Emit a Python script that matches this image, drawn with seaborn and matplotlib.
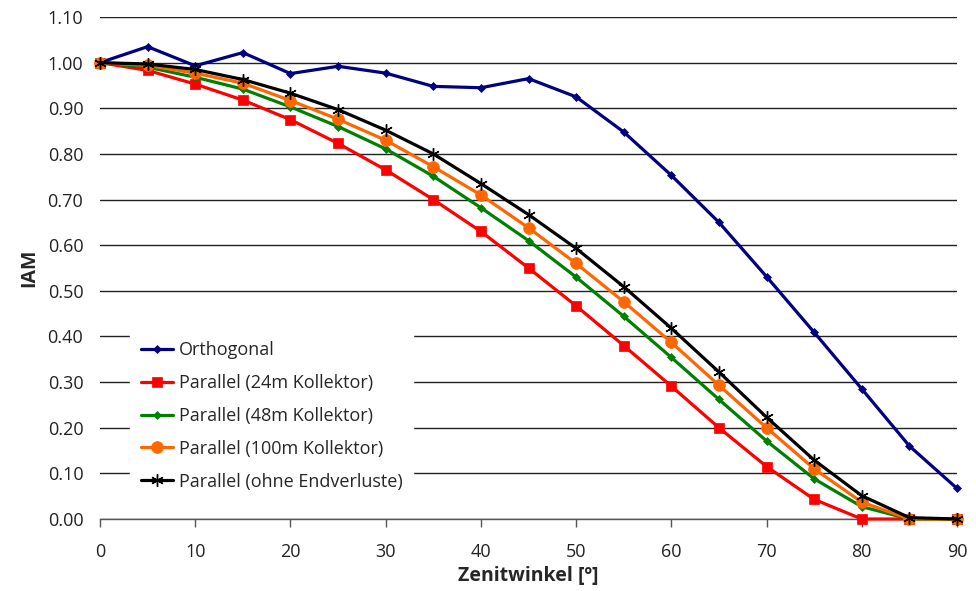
import matplotlib
matplotlib.use("Agg")
import matplotlib.pyplot as plt
import seaborn as sns
import pandas as pd

zenith = [0, 5, 10, 15, 20, 25, 30, 35, 40, 45, 50, 55, 60, 65, 70, 75, 80, 85, 90]
orthogonal = [1.000, 1.035, 0.993, 1.022, 0.976, 0.992, 0.977, 0.948, 0.945, 0.965,
              0.925, 0.848, 0.753, 0.650, 0.531, 0.409, 0.285, 0.160, 0.067]
par_24m = [1.000, 0.983, 0.953, 0.918, 0.875, 0.823, 0.765, 0.700, 0.630, 0.550,
           0.467, 0.380, 0.291, 0.200, 0.115, 0.043, 0.000, 0.000, 0.000]
par_48m = [1.000, 0.990, 0.968, 0.942, 0.903, 0.860, 0.811, 0.751, 0.682, 0.610,
           0.530, 0.444, 0.354, 0.262, 0.171, 0.088, 0.027, 0.000, 0.000]
par_100m = [1.000, 0.994, 0.977, 0.955, 0.917, 0.876, 0.830, 0.772, 0.710, 0.638,
            0.560, 0.476, 0.387, 0.293, 0.200, 0.110, 0.037, 0.000, 0.000]
par_ohne = [1.000, 0.997, 0.985, 0.963, 0.933, 0.897, 0.852, 0.800, 0.735, 0.667,
            0.593, 0.509, 0.418, 0.322, 0.223, 0.129, 0.051, 0.003, 0.000]

series_names = ["Orthogonal", "Parallel (24m Kollektor)", "Parallel (48m Kollektor)",
                "Parallel (100m Kollektor)", "Parallel (ohne Endverluste)"]
series_values = [orthogonal, par_24m, par_48m, par_100m, par_ohne]
y_ticks = [0.0, 0.1, 0.2, 0.3, 0.4, 0.5, 0.6, 0.7, 0.8, 0.9, 1.0, 1.1]
x_ticks = [0, 10, 20, 30, 40, 50, 60, 70, 80, 90]

colors = ["#000080", "#FF0000", "#008000", "#FF6600", "#000000"]
markers = ["D", "s", "D", "o", (6, 2, 0)]
msizes = [4.5, 7.5, 4.5, 8.5, 9]

sns.set_theme(style="white")
plt.rcParams["font.family"] = ["Open Sans", "DejaVu Sans"]

df = pd.DataFrame({"Zenitwinkel": zenith * len(series_names),
                   "IAM": sum(series_values, []),
                   "Serie": sum([[n] * len(zenith) for n in series_names], [])})

fig = plt.figure(figsize=(9.76, 5.91), dpi=100)
ax = fig.add_axes([100 / 976, (591 - 519) / 591, (957 - 100) / 976, (519 - 17) / 591])

for i, name in enumerate(series_names):
    sub = df[df["Serie"] == name]
    kw = dict(markeredgecolor=colors[i], markeredgewidth=1.0 if i == 4 else 0.5)
    sns.lineplot(data=sub, x="Zenitwinkel", y="IAM", ax=ax, color=colors[i],
                 marker=markers[i], markersize=msizes[i], linewidth=2.3, label=name,
                 zorder=3 + i, clip_on=False, **kw)

ax.set_xlim(0, 90)
ax.set_ylim(0, 1.1)
ax.set_xticks(x_ticks)
ax.set_xticklabels([str(t) for t in x_ticks], fontsize=13, color="#222222")
ax.set_yticks(y_ticks)
ax.set_yticklabels([f"{t:.2f}" for t in y_ticks], fontsize=13, color="#222222")
ax.yaxis.grid(True, color="#222222", linewidth=1.0)
ax.xaxis.grid(False)
for s in ["left", "right", "top"]:
    ax.spines[s].set_visible(False)
ax.spines["bottom"].set_color("#555555")
ax.spines["bottom"].set_linewidth(1.0)
ax.tick_params(axis="x", which="both", bottom=True, length=6, width=1, color="#555555", pad=11)
ax.tick_params(axis="y", length=0, pad=12)
ax.set_xlabel("Zenitwinkel [º]", fontsize=14, fontweight="bold", labelpad=4)
ax.set_ylabel("IAM", fontsize=14, fontweight="bold", labelpad=6)

leg = ax.legend(loc="lower left", bbox_to_anchor=(0.035, 0.035), frameon=True, fontsize=13,
                handlelength=1.8, handletextpad=0.3, labelspacing=0.82, borderpad=0.6,
                borderaxespad=0.0)
leg.get_frame().set_facecolor("white")
leg.get_frame().set_edgecolor("white")
leg.get_frame().set_alpha(1.0)
leg.set_zorder(20)

fig.savefig("out.png", dpi=100)
